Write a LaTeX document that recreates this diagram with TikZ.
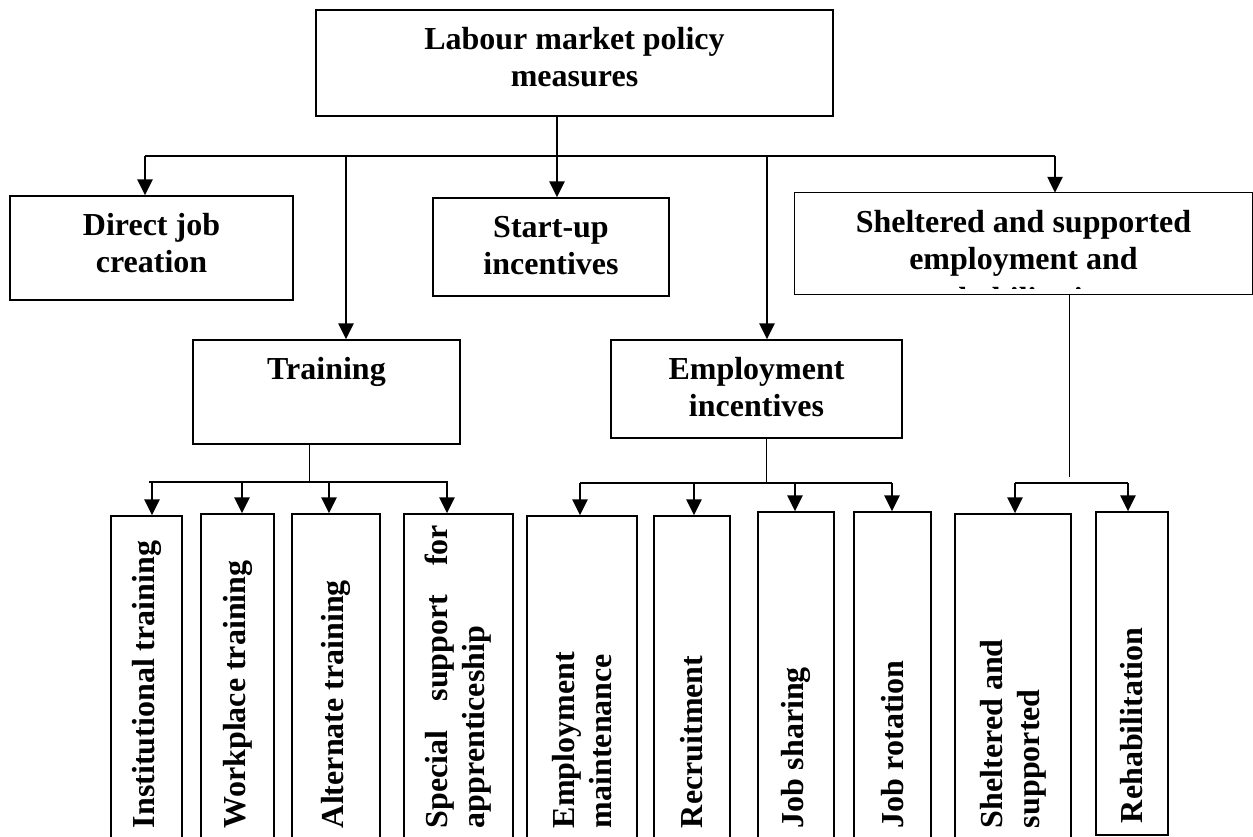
\documentclass[tikz,border=0pt]{standalone}
\usepackage{fontspec}
\setmainfont{Liberation Serif}
\usetikzlibrary{arrows.meta}
% top-aligned, centred text block of a horizontal box
\newcommand\headtext[3]{\parbox[c][#2][t]{#1}{\centering\rule{0pt}{39.5pt}#3\par}}
% text block of an upright (rotated) box, set flush to its lower end
\newcommand\sidetext[3]{\parbox[c][#2][c]{#1}{\raggedright\leftskip=12pt\relax #3\par}}

\begin{document}
\begin{tikzpicture}[x=1pt,y=-1pt,
  every node/.style={font=\bfseries\fontsize{32}{37}\selectfont, inner sep=0pt},
  box/.style={draw, line width=1.3pt},
  sidebox/.style={draw, line width=1.3pt, rotate=90},
  arr/.style={line width=2.4pt, -{Triangle[width=15pt,length=16pt]}},
  bus/.style={line width=1.5pt},
  stem/.style={line width=1pt}]

\useasboundingbox (0,0) rectangle (1253,837);
\clip (0,0) rectangle (1253,837);

% ---- first level ----
\node[box] (top) at (574.5,63) {\headtext{517pt}{106pt}{Labour market policy\\measures}};
\node[box] (direct) at (151.5,248) {\headtext{283pt}{104pt}{Direct job\\creation}};
\node[box] (start) at (551,247) {\headtext{236pt}{98pt}{Start-up\\incentives}};
\node[box] (train) at (326.5,392) {\headtext{267pt}{104pt}{Training}};
\node[box] (emp) at (756.5,389) {\headtext{291pt}{98pt}{Employment\\incentives}};
\begin{scope}
  % the third line runs past the frame and is cut off by it
  \clip (795,190) rectangle (1253,288);
  \node (shel) at (1023.5,243.5) {\headtext{457pt}{101pt}{Sheltered and supported\\employment and\\[3pt]rehabilitation}};
\end{scope}
\draw[line width=1.3pt] (shel.north west) rectangle (shel.south east);

% ---- second level (upright boxes) ----
\node[sidebox] (inst)   at (146.5,678)  {\sidetext{324pt}{71pt}{Institutional training}};
\node[sidebox] (work)   at (237.5,677)  {\sidetext{326pt}{73pt}{Workplace training}};
\node[sidebox] (alt)    at (336,677)    {\sidetext{326pt}{88pt}{Alternate training}};
\node[sidebox] (spec)   at (458.5,677)  {\sidetext{326pt}{109pt}{\makebox[303pt][s]{Special support for}\\apprenticeship}};
\node[sidebox] (emain)  at (582,678)    {\sidetext{324pt}{110pt}{Employment\\maintenance}};
\node[sidebox] (recr)   at (692,678)    {\sidetext{324pt}{76pt}{Recruitment}};
\node[sidebox] (jshare) at (796,676)    {\sidetext{328pt}{76pt}{Job sharing}};
\node[sidebox] (jrot)   at (892.5,676)  {\sidetext{328pt}{77pt}{Job rotation}};
\node[sidebox] (shsup)  at (1013,677)   {\sidetext{326pt}{116pt}{Sheltered and\\supported}};
\node[sidebox] (rehab)  at (1132,673.5) {\sidetext{323pt}{72pt}{Rehabilitation}};

% ---- main distribution bus ----
\coordinate (bd) at (145,156);
\coordinate (bm) at (557,156);
\coordinate (bt) at (346,156);
\coordinate (be) at (767,156);
\coordinate (bs) at (1055,156);
\draw[bus] (bd) -- (bs);
\draw[arr] (bm |- top.south) -- (bm |- start.north);
\draw[arr] (bd) -- (bd |- direct.north);
\draw[arr] (bt) -- (bt |- train.north);
\draw[arr] (be) -- (be |- emp.north);
\draw[arr] (bs) -- (bs |- shel.north);

% ---- training branch ----
\coordinate (tj) at (309,482);
\coordinate (tl) at (149,482);
\coordinate (tr) at (448,482);
\draw[stem] (tj |- train.south) -- (tj);
\draw[bus] (tl) -- (tr);
\foreach \x/\n in {152/inst, 242/work, 329/alt, 447/spec}{
  \path (\x,482) coordinate (tmp);
  \draw[arr] (tmp) -- (tmp |- \n.east);
}

% ---- employment incentives branch ----
\coordinate (ej) at (766,484);
\coordinate (el) at (580,483);
\coordinate (er) at (892,483);
\draw[stem] (ej |- emp.south) -- (ej);
\draw[bus] (el) -- (er);
\foreach \x/\n in {580/emain, 694/recr, 795/jshare, 892/jrot}{
  \path (\x,483) coordinate (tmp);
  \draw[arr] (tmp) -- (tmp |- \n.east);
}

% ---- sheltered employment branch ----
\coordinate (sj) at (1069,477);
\coordinate (sl) at (1015,483);
\coordinate (sr) at (1128,483);
\draw[stem] (sj |- shel.south) -- (sj);
\draw[bus] (sl) -- (sr);
\foreach \x/\n in {1015/shsup, 1128/rehab}{
  \path (\x,483) coordinate (tmp);
  \draw[arr] (tmp) -- (tmp |- \n.east);
}
\end{tikzpicture}
\end{document}
